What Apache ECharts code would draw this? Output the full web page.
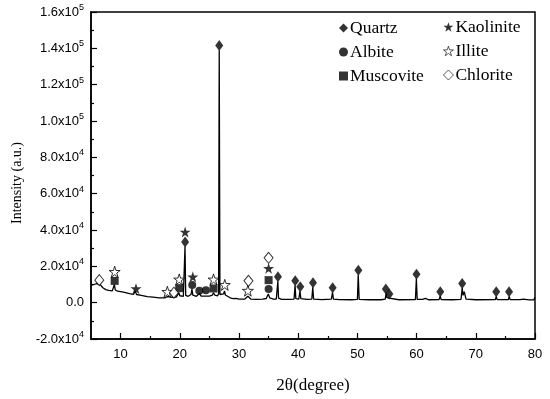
<!DOCTYPE html>
<html>
<head>
<meta charset="utf-8">
<script src="https://cdn.jsdelivr.net/npm/echarts@6/dist/echarts.min.js"></script>
<style>
html,body{margin:0;padding:0;background:#fff;}
#chart{width:550px;height:399px;}
</style>
</head>
<body>
<div id="chart"></div>
<script>
// ---- DATA ----
const xMajorTicks = [10, 20, 30, 40, 50, 60, 70, 80];
const xMinorTicks = [15, 25, 35, 45, 55, 65, 75];
const yTickLabels = ['-2.0x10^4', '0.0', '2.0x10^4', '4.0x10^4', '6.0x10^4', '8.0x10^4',
  '1.0x10^5', '1.2x10^5', '1.4x10^5', '1.6x10^5'];
const yMin = -20000, yMax = 160000, yStep = 20000;

// XRD trace: [2theta, intensity]
const tracePoints = [
  [5.0, 9500], [5.5, 10000], [6.0, 10500], [6.3, 11000], [6.6, 9800], [7.0, 8200], [7.5, 7200],
  [8.0, 6800], [8.6, 6500], [8.8, 7500], [8.95, 10000], [9.1, 7000], [9.5, 6300], [10.5, 5800],
  [11.5, 5000], [12.2, 4600], [12.45, 6500], [12.7, 4500], [13.5, 4000], [14.5, 3300], [15.5, 3000],
  [16.5, 2600], [17.5, 2600], [17.9, 3400], [18.2, 2800], [18.8, 2900], [19.1, 3600], [19.4, 3000],
  [19.7, 3500], [19.85, 5500], [20.0, 3800], [20.6, 3500], [20.75, 4000], [20.88, 30900], [21.0, 4000],
  [21.4, 3500], [21.9, 4500], [22.05, 7500], [22.2, 4200], [22.8, 3500], [23.1, 4000], [23.35, 5000],
  [23.6, 3600], [24.0, 3600], [24.2, 4500], [24.4, 3600], [25.0, 3600], [25.5, 4200], [25.7, 5500],
  [25.9, 4200], [26.4, 3800], [26.55, 5000], [26.66, 139000], [26.78, 4500], [27.0, 3500], [27.4, 4800],
  [27.55, 6500], [27.7, 4200], [27.9, 5000], [28.0, 3500], [28.5, 2700], [29.0, 2200], [29.5, 2400],
  [30.0, 2000], [31.0, 2000], [31.3, 2600], [31.5, 3500], [31.7, 2400], [32.0, 2000], [33.0, 1800],
  [34.0, 1900], [34.6, 2300], [34.95, 4800], [35.2, 2600], [35.8, 2000], [36.3, 2000], [36.45, 3000],
  [36.56, 11700], [36.68, 2500], [37.2, 1800], [38.5, 1800], [39.3, 2000], [39.47, 9500], [39.6, 2200],
  [40.1, 2000], [40.3, 6300], [40.45, 2200], [41.5, 1800], [42.3, 2000], [42.46, 8500], [42.6, 2000],
  [44.0, 1700], [45.6, 2000], [45.8, 5700], [45.95, 2000], [47.0, 1700], [49.0, 1600], [50.0, 1800],
  [50.14, 15400], [50.3, 1800], [52.0, 1600], [54.0, 1600], [54.7, 2000], [54.85, 5000], [55.0, 2800],
  [55.2, 3000], [55.35, 2500], [55.5, 1800], [57.0, 1600], [59.8, 1700], [59.96, 13100], [60.1, 1800],
  [61.0, 1800], [61.5, 2400], [62.0, 1600], [63.8, 1700], [63.98, 3500], [64.15, 1700], [66.0, 1600],
  [67.5, 1800], [67.7, 8100], [67.85, 4000], [68.05, 6000], [68.2, 5500], [68.35, 2000], [70.0, 1600],
  [73.3, 1700], [73.45, 3500], [73.6, 1700], [75.5, 1700], [75.65, 3500], [75.8, 1700], [77.5, 1700],
  [78.0, 2000], [79.0, 1500], [79.8, 1600], [80.0, 3000]
];

// phase markers: [2theta, marker height]
const quartzMarks = [[20.9, 33400], [26.66, 141500], [36.58, 14200], [39.5, 12000], [40.35, 8800],
  [42.5, 11000], [45.82, 8200], [50.16, 17900], [54.8, 7500], [55.4, 4800], [59.98, 15600],
  [64.0, 6000], [67.7, 10600], [73.45, 6000], [75.62, 6000]];
const albiteMarks = [[22.1, 9700], [23.3, 6600], [24.4, 6800], [35.0, 7500]];
const muscoviteMarks = [[9.0, 12000], [19.9, 8000], [25.7, 7800], [35.0, 12400]];
const kaoliniteMarks = [[12.6, 7700], [20.9, 38900], [22.2, 14200], [35.0, 18900]];
const illiteMarks = [[9.0, 17000], [17.9, 6000], [19.9, 12800], [25.7, 12800], [27.6, 9800], [31.5, 6600]];
const chloriteMarks = [[6.4, 12400], [19.0, 5500], [31.6, 12000], [35.0, 24700]];

// ---- CHART ----
const STAR = 'path://M50,0 L61.2,34.5 L97.6,34.5 L68.2,55.9 L79.4,90.5 L50,69.1 L20.6,90.5 L31.8,55.9 L2.4,34.5 L38.8,34.5 Z';
const chart = echarts.init(document.getElementById('chart'), null, {renderer: 'canvas'});

function yFmt(val) {
  const idx = Math.round((val - yMin) / yStep);
  const s = yTickLabels[idx];
  if (s === undefined) return '';
  const parts = s.split('^');
  if (parts.length === 1) return '{b|' + parts[0] + '}';
  return '{b|' + parts[0] + '}{s|' + parts[1] + '}';
}

function marker(name, data, symbol, size, filled, z) {
  return {
    name: name, type: 'scatter', data: data, symbol: symbol, symbolSize: size,
    itemStyle: filled ? {color: '#000', borderWidth: 0}
                      : {color: '#fff', borderColor: '#000', borderWidth: 1},
    z: z || 5, silent: true
  };
}

const axisLine = {show: true, onZero: false, lineStyle: {color: '#000', width: 1.5}};
const legendText = {fontFamily: 'Liberation Serif, Times New Roman, serif', fontSize: 17.5, color: '#000', padding: [0, 0, 0, -3]};

chart.setOption({
  animation: false,
  backgroundColor: '#fff',
  grid: {left: 91, right: 15, top: 12, bottom: 60, show: true, borderColor: '#000', borderWidth: 1.5},
  xAxis: [{
    type: 'value', min: 5, max: 80, position: 'bottom',
    axisLine: axisLine,
    axisTick: {show: true, inside: true, length: 6, lineStyle: {color: '#000', width: 1.2}, customValues: xMajorTicks},
    axisLabel: {color: '#000', fontFamily: 'Liberation Sans, Arial, sans-serif', fontSize: 13, margin: 9, customValues: xMajorTicks},
    splitLine: {show: false}
  }, {
    type: 'value', min: 5, max: 80, position: 'bottom',
    axisLine: {show: false, onZero: false},
    axisTick: {show: true, inside: true, length: 3, lineStyle: {color: '#000', width: 1.2}, customValues: xMinorTicks},
    axisLabel: {show: false},
    splitLine: {show: false}
  }],
  yAxis: {
    type: 'value', min: yMin, max: yMax, interval: yStep,
    axisLine: axisLine,
    axisTick: {show: true, inside: true, length: 6, lineStyle: {color: '#000', width: 1.2}},
    minorTick: {show: true, splitNumber: 2, length: 3, lineStyle: {color: '#000', width: 1.2}},
    axisLabel: {
      formatter: yFmt, margin: 7,
      rich: {
        b: {fontFamily: 'Liberation Sans, Arial, sans-serif', fontSize: 13, color: '#000', lineHeight: 18},
        s: {fontFamily: 'Liberation Sans, Arial, sans-serif', fontSize: 9, color: '#000', lineHeight: 10, verticalAlign: 'top'}
      }
    },
    splitLine: {show: false}
  },
  legend: [{
    data: [
      {name: 'Quartz', icon: 'diamond'},
      {name: 'Albite', icon: 'circle'},
      {name: 'Muscovite', icon: 'rect'}
    ],
    orient: 'vertical', left: 334, top: 14,
    itemWidth: 9, itemHeight: 9, itemGap: 6,
    itemStyle: {color: '#000', borderWidth: 0},
    textStyle: legendText, selectedMode: false
  }, {
    data: [
      {name: 'Kaolinite', icon: STAR, itemStyle: {color: '#000', borderWidth: 0}},
      {name: 'Illite', icon: STAR, itemStyle: {color: '#fff', borderColor: '#000', borderWidth: 0.8}},
      {name: 'Chlorite', icon: 'diamond', itemStyle: {color: '#fff', borderColor: '#000', borderWidth: 0.8}}
    ],
    orient: 'vertical', left: 438, top: 13,
    itemWidth: 10, itemHeight: 10, itemGap: 6,
    textStyle: legendText, selectedMode: false
  }],
  graphic: [{
    type: 'text', x: 17, y: 183, rotation: Math.PI / 2,
    style: {text: 'Intensity (a.u.)', font: '14px "Liberation Serif", "Times New Roman", serif', fill: '#000', align: 'center', verticalAlign: 'middle'}
  }, {
    type: 'text', x: 313, y: 386,
    style: {text: '2θ(degree)', font: '17px "Liberation Serif", "Times New Roman", serif', fill: '#000', align: 'center', verticalAlign: 'middle'}
  }],
  series: [
    {name: 'trace', type: 'line', data: tracePoints, symbol: 'none', showSymbol: false,
     lineStyle: {color: '#000', width: 1.3}, z: 2, silent: true},
    marker('Quartz', quartzMarks, 'diamond', [8, 11], true, 6),
    marker('Albite', albiteMarks, 'circle', 8, true),
    marker('Muscovite', muscoviteMarks, 'rect', 8, true),
    marker('Kaolinite', kaoliniteMarks, STAR, 11, true),
    marker('Illite', illiteMarks, STAR, 11, false),
    marker('Chlorite', chloriteMarks, 'diamond', [9, 11], false)
  ]
});
</script>
</body>
</html>
